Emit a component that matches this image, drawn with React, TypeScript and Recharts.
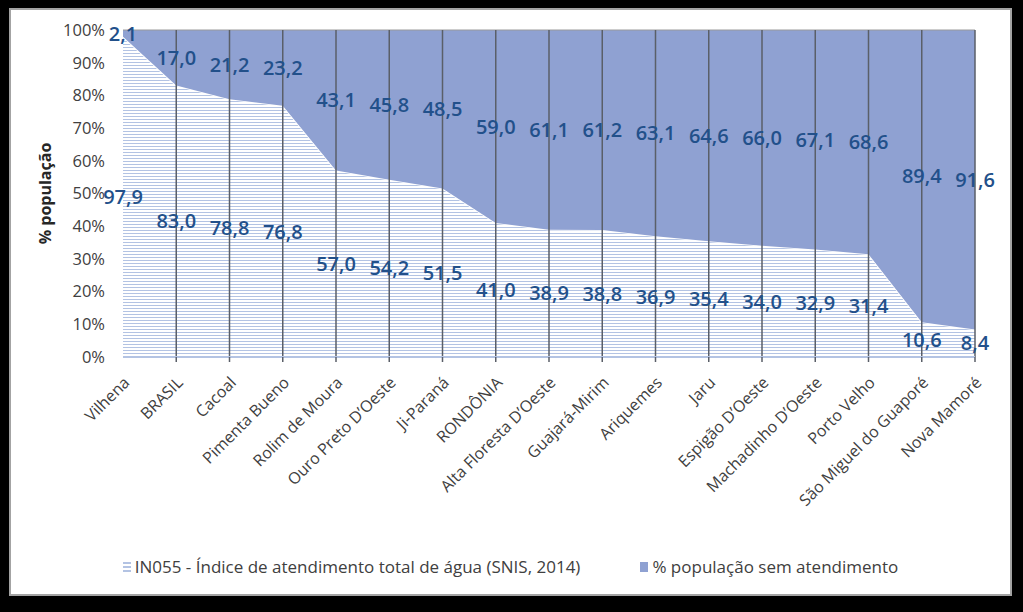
import {
  Area,
  ComposedChart,
  LabelList,
  Line,
  ReferenceLine,
  XAxis,
  YAxis,
} from "recharts";

const categories = [
  "Vilhena",
  "BRASIL",
  "Cacoal",
  "Pimenta Bueno",
  "Rolim de Moura",
  "Ouro Preto D’Oeste",
  "Ji-Paraná",
  "RONDÔNIA",
  "Alta Floresta D’Oeste",
  "Guajará-Mirim",
  "Ariquemes",
  "Jaru",
  "Espigão D’Oeste",
  "Machadinho D’Oeste",
  "Porto Velho",
  "São Miguel do Guaporé",
  "Nova Mamoré",
];

const atendimento = [
  97.9, 83.0, 78.8, 76.8, 57.0, 54.2, 51.5, 41.0, 38.9, 38.8, 36.9, 35.4, 34.0,
  32.9, 31.4, 10.6, 8.4,
];

const semAtendimento = [
  2.1, 17.0, 21.2, 23.2, 43.1, 45.8, 48.5, 59.0, 61.1, 61.2, 63.1, 64.6, 66.0,
  67.1, 68.6, 89.4, 91.6,
];

const yTicks = [0, 10, 20, 30, 40, 50, 60, 70, 80, 90, 100];

const legendAtendimento = "IN055 - Índice de atendimento total de água (SNIS, 2014)";
const legendSem = "% população sem atendimento";

const FONT = "'Open Sans', 'Noto Sans', sans-serif";
const TOP_FILL = "#8fa1d2";
const LABEL_COLOR = "#22508a";
const GRID_COLOR = "#5a5f68";

type Row = {
  name: string;
  atendimento: number;
  semAtendimento: number;
  midAtendimento: number;
  midSem: number;
};

// label anchors sit in the middle of each band, like Excel does for stacked areas
const data: Row[] = categories.map((name, i) => ({
  name,
  atendimento: atendimento[i],
  semAtendimento: semAtendimento[i],
  midAtendimento: atendimento[i] / 2,
  midSem: atendimento[i] + semAtendimento[i] / 2,
}));

function formatValue(value: unknown): string {
  return Number(value).toFixed(1).replace(".", ",");
}

function CategoryTick({ x, y, payload, index }: any) {
  const tx = x - 2;
  const ty = y + 17;
  return (
    <g>
      {index > 0 && (
        <line x1={x} y1={y} x2={x} y2={y + 5} stroke={GRID_COLOR} strokeWidth={1.5} />
      )}
      <text
        x={tx}
        y={ty}
        textAnchor="end"
        dominantBaseline="hanging"
        transform={`rotate(-45, ${tx}, ${ty})`}
        fontSize={16}
        fill="#404040"
        fontFamily={FONT}
      >
        {payload.value}
      </text>
    </g>
  );
}

function ChartLegend() {
  return (
    <div
      style={{
        position: "absolute",
        left: 0,
        top: 547,
        width: 1003,
        display: "flex",
        justifyContent: "center",
        alignItems: "center",
        gap: 60,
        fontFamily: FONT,
        fontSize: 17,
        color: "#404040",
      }}
    >
      <div style={{ display: "flex", alignItems: "center", gap: 4 }}>
        <svg width={8} height={11}>
          <rect x={0} y={1} width={8} height={2} fill="#b3c3e3" />
          <rect x={0} y={5} width={8} height={2} fill="#b3c3e3" />
          <rect x={0} y={9} width={8} height={2} fill="#b3c3e3" />
        </svg>
        <span>{legendAtendimento}</span>
      </div>
      <div style={{ display: "flex", alignItems: "center", gap: 4 }}>
        <svg width={8} height={11}>
          <rect x={0} y={1} width={8} height={10} fill={TOP_FILL} />
        </svg>
        <span>{legendSem}</span>
      </div>
    </div>
  );
}

export default function App() {
  return (
    <div
      style={{
        position: "absolute",
        left: 0,
        top: 0,
        width: 1023,
        height: 612,
        background: "#000",
      }}
    >
      <div
        style={{
          position: "absolute",
          left: 9,
          top: 8,
          width: 1003,
          height: 588,
          background: "#fff",
          boxShadow: "inset 0 0 0 2px #a3a3a3",
        }}
      >
        <ComposedChart
          width={1003}
          height={588}
          data={data}
          margin={{ top: 22, right: 37, left: 0, bottom: 0 }}
        >
          <defs>
            <pattern id="hatch" width={6} height={3} patternUnits="userSpaceOnUse">
              <rect width={6} height={3} fill="#ffffff" />
              <rect width={6} height={1} fill="#b3c3e3" />
            </pattern>
          </defs>
          <XAxis
            dataKey="name"
            interval={0}
            height={239}
            tickSize={0}
            tickMargin={0}
            axisLine={{ stroke: "#b3c3e3", strokeWidth: 2 }}
            tick={<CategoryTick />}
          />
          <YAxis
            width={114}
            domain={[0, 100]}
            ticks={yTicks}
            allowDataOverflow
            axisLine={false}
            tickLine={false}
            tickSize={0}
            tickMargin={18}
            tickFormatter={(v) => `${v}%`}
            tick={{ fontSize: 16.5, fill: "#404040", fontFamily: FONT }}
            label={{
              value: "% população",
              angle: -90,
              position: "insideLeft",
              offset: 36,
              style: {
                fontSize: 16,
                fontWeight: 700,
                fill: "#262626",
                fontFamily: FONT,
                textAnchor: "middle",
              },
            }}
          />
          <Area
            type="linear"
            dataKey="atendimento"
            stackId="pop"
            fill="url(#hatch)"
            fillOpacity={1}
            stroke="#ffffff"
            strokeWidth={1.5}
            isAnimationActive={false}
          />
          <Area
            type="linear"
            dataKey="semAtendimento"
            stackId="pop"
            fill={TOP_FILL}
            fillOpacity={1}
            stroke="none"
            isAnimationActive={false}
          />
          <ReferenceLine y={100} stroke="#9a9a9a" strokeWidth={1} />
          {categories.slice(1).map((c) => (
            <ReferenceLine key={c} x={c} stroke={GRID_COLOR} strokeWidth={1.5} />
          ))}
          <Line
            dataKey="midAtendimento"
            stroke="none"
            dot={false}
            activeDot={false}
            legendType="none"
            isAnimationActive={false}
          >
            <LabelList
              dataKey="atendimento"
              position="center"
              formatter={formatValue}
              style={{ fontSize: 20, fontWeight: 600, fill: LABEL_COLOR, fontFamily: FONT }}
            />
          </Line>
          <Line
            dataKey="midSem"
            stroke="none"
            dot={false}
            activeDot={false}
            legendType="none"
            isAnimationActive={false}
          >
            <LabelList
              dataKey="semAtendimento"
              position="center"
              formatter={formatValue}
              style={{ fontSize: 20, fontWeight: 600, fill: LABEL_COLOR, fontFamily: FONT }}
            />
          </Line>
        </ComposedChart>
        <ChartLegend />
      </div>
    </div>
  );
}
